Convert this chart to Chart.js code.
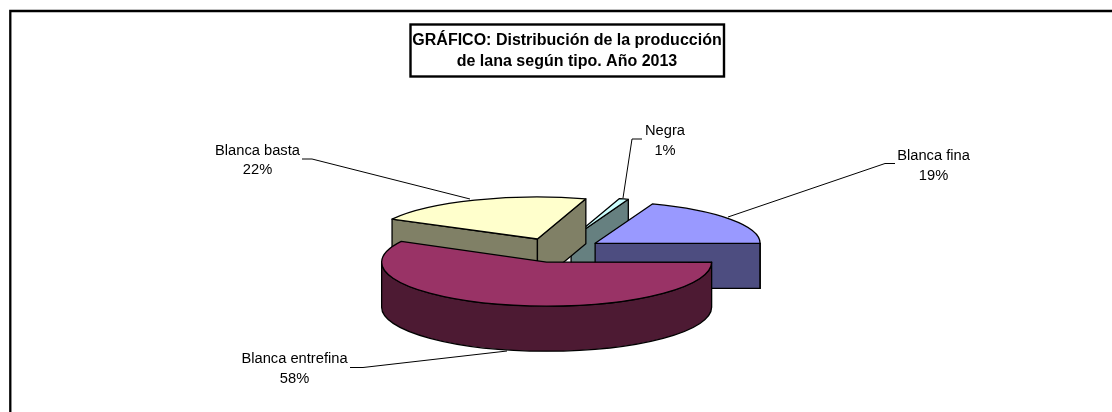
<!DOCTYPE html>
<html><head><meta charset="utf-8">
<style>html,body{margin:0;padding:0;background:#fff}#w{width:1112px;height:412px}canvas{display:block}</style>
<script src="https://cdn.jsdelivr.net/npm/chart.js@4"></script>
</head><body><div id="w"><canvas id="c" width="1112" height="412"></canvas></div>
<script>
const categories = ["Blanca fina", "Blanca entrefina", "Blanca basta", "Negra"];
const values = [19.4, 57.8, 21.9, 0.9];
const topColors = ["#9999FF", "#993366", "#FFFFCC", "#CCFFFF"];
const wallColors = ["#4D4D80", "#4D1A33", "#808066", "#668080"];
const titleLines = ["GRÁFICO: Distribución de la producción", "de lana según tipo. Año 2013"];

const TILT = 0.2545, DEPTH = 45, CX = 555.7, CY = 250.3;
const FONT = "'Liberation Sans', Arial, sans-serif";
// small per-slice corrections that stand in for the original's perspective
const sliceNudge = [{dx: 0, ry: 42}, {dx: 2.7, ry: 44}, {dx: 0, ry: 42}, {dx: 0, ry: 42}];
// label anchor (centre x, first baseline) and leader polyline for each category
const labelLayout = [
  {x: 933.5, y: 160, line: [[895,163.5],[885,163.5],[728,217]]},
  {x: 294.5, y: 363, line: [[350,367.5],[363,367.5],[507,351]]},
  {x: 257.5, y: 154.5, line: [[302,159],[312,159],[470,199]]},
  {x: 665, y: 135, line: [[642,139],[632,139],[623,198]]}
];

const pie3d = {
  id: 'pie3d',
  beforeDatasetDraw(chart) {
    const ctx = chart.ctx, meta = chart.getDatasetMeta(0);
    const items = meta.data.map((a, i) => {
      const p = a.getProps(['startAngle','endAngle','outerRadius'], true);
      const mid = (p.startAngle + p.endAngle) / 2;
      const off = a.options.offset;
      return {i, s: p.startAngle, e: p.endAngle, r: p.outerRadius, ry: sliceNudge[i].ry,
              x: CX + Math.cos(mid) * off + sliceNudge[i].dx, y: CY + Math.sin(mid) * off * TILT};
    }).sort((a, b) => a.y - b.y);
    ctx.save();
    ctx.lineWidth = 1.3; ctx.strokeStyle = '#000'; ctx.lineJoin = 'round';
    const pt = (it, ang) => [it.x + Math.cos(ang) * it.r, it.y + Math.sin(ang) * it.ry];
    const ell = (it, y, a, b, ccw) => ctx.ellipse(it.x, y, it.r, it.ry, 0, a, b, !!ccw);
    const TAU = 2 * Math.PI;
    for (const it of items) {
      ctx.fillStyle = wallColors[it.i];
      // radial walls that face the viewer
      [[it.s, -1], [it.e, 1]].forEach(([ang, sign]) => {
        if (sign * Math.cos(ang) <= 0) return;
        const q = pt(it, ang);
        ctx.beginPath(); ctx.moveTo(it.x, it.y); ctx.lineTo(q[0], q[1]);
        ctx.lineTo(q[0], q[1] + DEPTH); ctx.lineTo(it.x, it.y + DEPTH); ctx.closePath();
        ctx.fill(); ctx.stroke();
      });
      // outer wall, the part on the near half of the ellipse
      for (const base of [-TAU, 0, TAU]) {
        const a = Math.max(it.s, base), b = Math.min(it.e, base + Math.PI);
        if (b <= a) continue;
        const q = pt(it, b), p0 = pt(it, a);
        ctx.beginPath(); ctx.moveTo(p0[0], p0[1]);
        ell(it, it.y, a, b);
        ctx.lineTo(q[0], q[1] + DEPTH);
        ell(it, it.y + DEPTH, b, a, true);
        ctx.closePath(); ctx.fill(); ctx.stroke();
      }
      // top face
      ctx.fillStyle = topColors[it.i];
      ctx.beginPath(); ctx.moveTo(it.x, it.y); ell(it, it.y, it.s, it.e); ctx.closePath();
      ctx.fill(); ctx.stroke();
    }
    ctx.restore();
    return false;
  },
  afterDraw(chart) {
    const ctx = chart.ctx;
    ctx.save();
    // outer frame: only the top and left edges reach the picture
    ctx.strokeStyle = '#000'; ctx.lineWidth = 2.3;
    ctx.beginPath(); ctx.moveTo(10.3, 412); ctx.lineTo(10.3, 11); ctx.lineTo(1112, 11); ctx.stroke();
    // title box
    ctx.lineWidth = 2.4;
    ctx.strokeRect(410.5, 24.5, 313.5, 52);
    // leaders and labels
    ctx.lineWidth = 1; ctx.strokeStyle = '#000'; ctx.fillStyle = '#000';
    ctx.font = '14.7px ' + FONT; ctx.textAlign = 'center'; ctx.textBaseline = 'alphabetic';
    const tot = values.reduce((a, b) => a + b, 0);
    categories.forEach((c, i) => {
      const l = labelLayout[i];
      ctx.beginPath(); l.line.forEach((p, j) => j ? ctx.lineTo(p[0], p[1]) : ctx.moveTo(p[0], p[1])); ctx.stroke();
      ctx.fillText(c, l.x, l.y);
      ctx.fillText(Math.round(values[i] / tot * 100) + '%', l.x, l.y + 19.5);
    });
    ctx.restore();
  }
};

new Chart(document.getElementById('c'), {
  type: 'pie',
  data: {labels: categories, datasets: [{data: values, backgroundColor: topColors, borderColor: '#000',
    borderWidth: 1, offset: 48, hoverOffset: 0, radius: 165}]},
  options: {
    responsive: false, animation: false, events: [],
    rotation: 20.3,
    layout: {padding: {left: 22, top: 30}},
    plugins: {
      legend: {display: false}, tooltip: {enabled: false},
      title: {display: true, text: titleLines, color: '#000', padding: 0,
        font: {family: FONT, size: 16, weight: 'bold', lineHeight: 1.3}}
    }
  },
  plugins: [pie3d]
});
</script></body></html>
